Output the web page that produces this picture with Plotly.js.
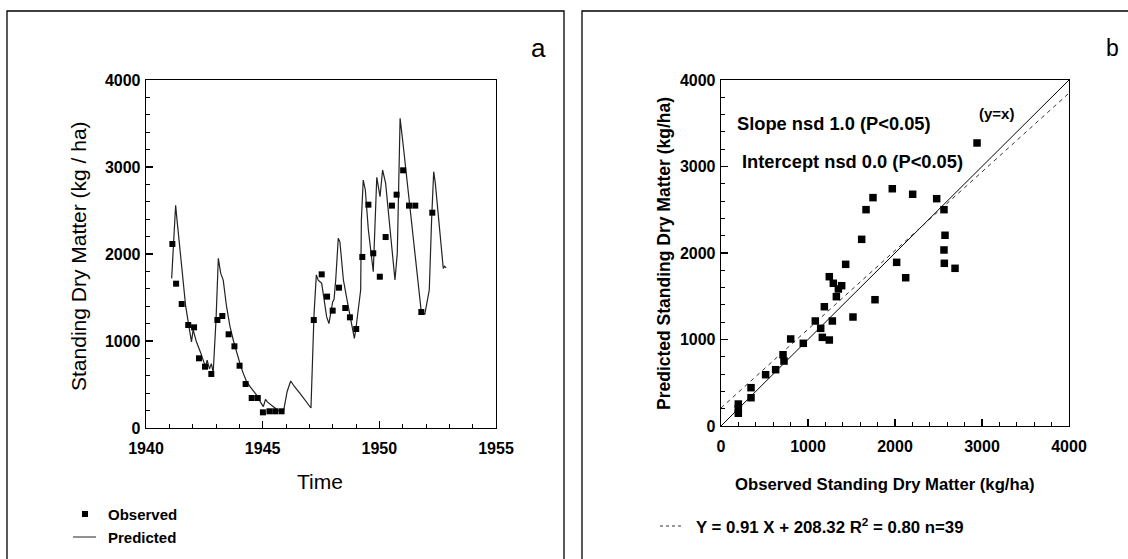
<!DOCTYPE html>
<html><head><meta charset="utf-8">
<script src="https://cdn.plot.ly/plotly-3.0.1.min.js"></script>
<style>html,body{margin:0;padding:0;background:#fff}#g{width:1128px;height:559px}</style>
</head><body><div id="g"></div>
<script>
// Panel a: observed standing dry matter
var obsYear = [1941.13,1941.29,1941.53,1941.81,1942.06,1942.27,1942.53,1942.80,1943.06,1943.27,1943.54,1943.79,1944.01,1944.27,1944.53,1944.79,1945.01,1945.29,1945.54,1945.81,1947.19,1947.53,1947.76,1948.00,1948.27,1948.54,1948.74,1949.01,1949.27,1949.53,1949.74,1950.02,1950.27,1950.54,1950.74,1951.02,1951.27,1951.54,1951.80,1952.27];
var obsVal  = [2115,1659,1425,1184,1157,801,705,621,1241,1287,1077,939,716,506,345,345,180,192,192,192,1241,1766,1510,1349,1613,1379,1272,1138,1966,2567,2008,1739,2195,2556,2682,2962,2556,2556,1333,2475];
// Panel a: predicted
var predYear = [1941.10,1941.22,1941.27,1941.33,1941.40,1941.55,1941.70,1941.85,1941.95,1942.02,1942.15,1942.35,1942.55,1942.62,1942.72,1942.80,1942.88,1943.00,1943.10,1943.20,1943.31,1943.45,1943.60,1943.75,1943.89,1944.05,1944.17,1944.30,1944.46,1944.60,1944.74,1944.90,1945.03,1945.12,1945.20,1945.46,1945.65,1945.74,1945.89,1946.05,1946.20,1946.35,1946.60,1946.85,1947.03,1947.07,1947.20,1947.30,1947.38,1947.53,1947.74,1947.84,1948.00,1948.06,1948.13,1948.24,1948.31,1948.46,1948.67,1948.93,1949.00,1949.14,1949.20,1949.23,1949.31,1949.40,1949.53,1949.74,1949.84,1949.89,1950.03,1950.14,1950.27,1950.67,1950.77,1950.89,1951.03,1951.67,1951.80,1951.95,1952.14,1952.24,1952.33,1952.40,1952.74,1952.80,1952.86];
var predVal  = [1720,2300,2560,2390,2200,1800,1400,1150,990,1130,1000,860,700,780,680,740,640,1240,1950,1780,1700,1400,1165,1000,858,720,628,540,475,420,379,300,245,330,300,245,200,188,188,420,540,480,398,310,245,230,1300,1760,1700,1663,1280,1200,1450,1480,1700,2180,2140,1701,1395,1031,1150,1452,1586,2390,2850,2736,2276,1797,2621,2881,2659,2966,2812,1701,2011,3560,3233,1586,1330,1310,1586,2390,2946,2812,1835,1860,1840];
// Panel b: observed vs predicted
var scObs  = [199,199,199,345,345,513,628,713,724,801,946,1084,1146,1165,1188,1245,1280,1245,1291,1326,1349,1387,1433,1517,1770,2019,2123,2567,1969,1747,1667,2203,2479,2563,1617,2575,2563,2690,2943];
var scPred = [254,204,147,443,327,593,651,824,751,1006,956,1214,1129,1025,1379,994,1214,1726,1650,1495,1584,1622,1869,1260,1460,1892,1714,1881,2743,2640,2501,2679,2628,2501,2158,2205,2035,1823,3272];
var lineX = [0,4000];
var slope = 0.91, intercept = 208.32;
var fitY = lineX.map(function(x){return slope*x+intercept;});

var W=1128,H=559;
function px(x){return x/W;} function py(y){return 1-y/H;}
var F = "Liberation Sans, Arial, sans-serif";
var tickFont = {family:F,size:16,color:'#000',weight:'bold'};

var traces = [
 {x:predYear,y:predVal,mode:'lines',line:{color:'#222',width:1.2},xaxis:'x',yaxis:'y',hoverinfo:'skip'},
 {x:obsYear,y:obsVal,mode:'markers',marker:{symbol:'square',size:6,color:'#000'},xaxis:'x',yaxis:'y'},
 {x:lineX,y:lineX,mode:'lines',line:{color:'#000',width:1},xaxis:'x2',yaxis:'y2'},
 {x:lineX,y:fitY,mode:'lines',line:{color:'#333',width:1,dash:'4px,4px'},xaxis:'x2',yaxis:'y2'},
 {x:scObs,y:scPred,mode:'markers',marker:{symbol:'square',size:7.5,color:'#000'},xaxis:'x2',yaxis:'y2'}
];
function ax(dom,range,dtick,minor,extra){
  var a = {domain:dom,range:range,dtick:dtick,tick0:range[0],showgrid:false,zeroline:false,
    showline:true,linecolor:'#000',linewidth:1.3,mirror:true,ticks:'inside',ticklen:7,tickwidth:1.2,tickcolor:'#000',
    minor:{dtick:minor,ticks:'inside',ticklen:4,tickwidth:1,tickcolor:'#000',showgrid:false},
    tickfont:tickFont,automargin:false,fixedrange:true};
  for(var k in extra) a[k]=extra[k];
  return a;
}
function ann(x,y,text,size,bold,o){
  var a={xref:'paper',yref:'paper',x:px(x),y:py(y),text:text,showarrow:false,xanchor:'center',yanchor:'middle',
    font:{family:F,size:size,color:'#000',weight:bold?'bold':'normal'}};
  for(var k in o) a[k]=o[k];
  return a;
}
var layout = {
  width:W,height:H,margin:{l:0,r:0,t:0,b:0},showlegend:false,
  paper_bgcolor:'#fff',plot_bgcolor:'#fff',
  xaxis: ax([px(146),px(496)],[1940,1955],5,1,{anchor:'y',ticklabelstandoff:5}),
  yaxis: ax([py(428),py(80)],[0,4000],1000,200,{anchor:'x',ticklabelstandoff:1}),
  xaxis2: ax([px(721),px(1069)],[0,4000],1000,200,{anchor:'y2',ticklabelstandoff:5}),
  yaxis2: ax([py(426),py(80)],[0,4000],1000,200,{anchor:'x2',ticklabelstandoff:1}),
  shapes:[
    {type:'rect',xref:'paper',yref:'paper',x0:px(7),x1:px(564),y0:py(575),y1:py(11),line:{color:'#000',width:1.3}},
    {type:'rect',xref:'paper',yref:'paper',x0:px(582),x1:px(1140),y0:py(575),y1:py(11),line:{color:'#000',width:1.3}},
    {type:'rect',xref:'paper',yref:'paper',x0:px(82),x1:px(88),y0:py(517),y1:py(511),fillcolor:'#000',line:{width:0}},
    {type:'line',xref:'paper',yref:'paper',x0:px(73),x1:px(96),y0:py(537),y1:py(537),line:{color:'#222',width:1}},
    {type:'line',xref:'paper',yref:'paper',x0:px(660),x1:px(681),y0:py(526),y1:py(526),line:{color:'#333',width:1,dash:'dot'}}
  ],
  annotations:[
    ann(538,48,'a',26,false),
    ann(1112,48,'b',23,false),
    ann(78,256,'Standing Dry Matter (kg / ha)',21,false,{textangle:-90}),
    ann(320,481,'Time',21,false),
    ann(106,514,'Observed',15,true,{xanchor:'left'}),
    ann(106,537,'Predicted',15,true,{xanchor:'left'}),
    ann(664,254,'Predicted Standing Dry Matter (kg/ha)',17.5,true,{textangle:-90}),
    ann(885,484,'Observed Standing Dry Matter (kg/ha)',16.7,true),
    ann(694,526,'Y = 0.91 X + 208.32 R<sup>2</sup> = 0.80 n=39',16.8,true,{xanchor:'left'}),
    ann(735,123,'Slope nsd 1.0 (P<0.05)',18.3,true,{xanchor:'left'}),
    ann(740,161,'Intercept nsd 0.0 (P<0.05)',18.3,true,{xanchor:'left'}),
    {xref:'x2',yref:'y2',x:3170,y:3610,text:'(y=x)',showarrow:false,xanchor:'center',yanchor:'middle',font:{family:F,size:15,color:'#000',weight:'bold'}}
  ]
};
Plotly.newPlot('g',traces,layout,{displayModeBar:false,staticPlot:true});
</script></body></html>
